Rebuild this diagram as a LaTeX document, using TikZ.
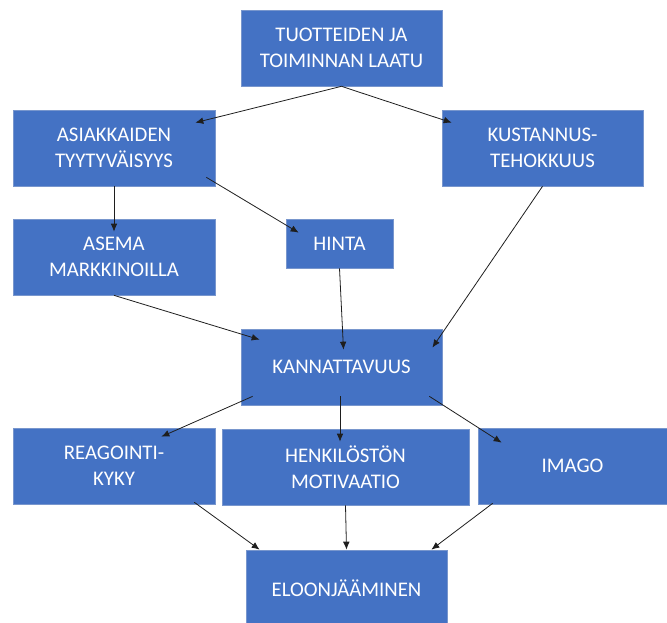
\documentclass[tikz,border=0pt]{standalone}
\usepackage{fontspec}
\setmainfont{Carlito}
\usepackage{xcolor}
\definecolor{ofblue}{RGB}{68,114,196}
\definecolor{ofedge}{RGB}{120,150,205}
\definecolor{ofarrow}{RGB}{30,30,30}
\usepackage{tikz}
\usetikzlibrary{arrows.meta, positioning}

\begin{document}
\begin{tikzpicture}[
  x=0.75pt, y=-0.75pt,
  box/.style={rectangle, draw=ofedge, line width=0.5pt, fill=ofblue, text=white,
              minimum width=150.75pt, minimum height=57pt, inner sep=0pt,
              font=\fontsize{15.6}{19.8}\selectfont, align=center},
  arr/.style={-{Latex[length=6pt,width=5pt]}, line width=0.6pt, color=ofarrow}
]
  \useasboundingbox (0,0) rectangle (667,623);
  % Top level
  \node[box] (laatu) at (341.5,48) {TUOTTEIDEN JA\\TOIMINNAN LAATU};
  % Second level
  \node[box, minimum width=151.5pt] (asiak) at (114,148) {ASIAKKAIDEN\\TYYTYVÄISYYS};
  \node[box] (kust) at (542.5,148) {KUSTANNUS-\\TEHOKKUUS};
  % Third level
  \node[box, minimum width=151.5pt] (asema) at (114,257) {ASEMA\\MARKKINOILLA};
  \node[box, minimum width=80.25pt, minimum height=36.75pt] (hinta) at (339.5,243.5) {HINTA};
  % Middle
  \node[box] (kann) at (341.5,367) {KANNATTAVUUS};
  % Fourth level
  \node[box, minimum width=151.5pt] (reag) at (114,466) {REAGOINTI-\\KYKY};
  \node[box, minimum width=185.25pt] (henk) at (345.5,467) {HENKILÖSTÖN\\MOTIVAATIO};
  \node[box, minimum width=141.75pt] (imago) at (572.5,466) {IMAGO};
  % Bottom
  \node[box] (eloon) at (346.5,588) {ELOONJÄÄMINEN};

  % Arrows
  \draw[arr] (laatu.south) -- ([shift={(-20,13)}]asiak.north east);
  \draw[arr] (laatu.south) -- ([shift={(10,13)}]kust.north west);
  \draw[arr] (asiak.south) -- ([shift={(0,13)}]asema.north);
  \draw[arr] ([shift={(-9,-9)}]asiak.south east) -- ([shift={(13,14)}]hinta.north west);
  \draw[arr] (kust.south) -- ([shift={(-10,19)}]kann.north east);
  \draw[arr] (asema.south) -- ([shift={(19,11)}]kann.north west);
  \draw[arr] (hinta.south) -- ([shift={(2,21)}]kann.north);
  \draw[arr] ([shift={(12,-9)}]kann.south west) -- ([shift={(-54,9)}]reag.north east);
  \draw[arr] ([shift={(-1.5,-9)}]kann.south) -- ([shift={(-5.5,13)}]henk.north);
  \draw[arr] ([shift={(-13,-9)}]kann.south east) -- ([shift={(24,15)}]imago.north west);
  \draw[arr] ([shift={(-21,-2)}]reag.south east) -- ([shift={(14,0)}]eloon.north west);
  \draw[arr] (henk.south) -- (eloon.north);
  \draw[arr] ([shift={(15,-1)}]imago.south west) -- ([shift={(-16,0)}]eloon.north east);
\end{tikzpicture}
\end{document}
